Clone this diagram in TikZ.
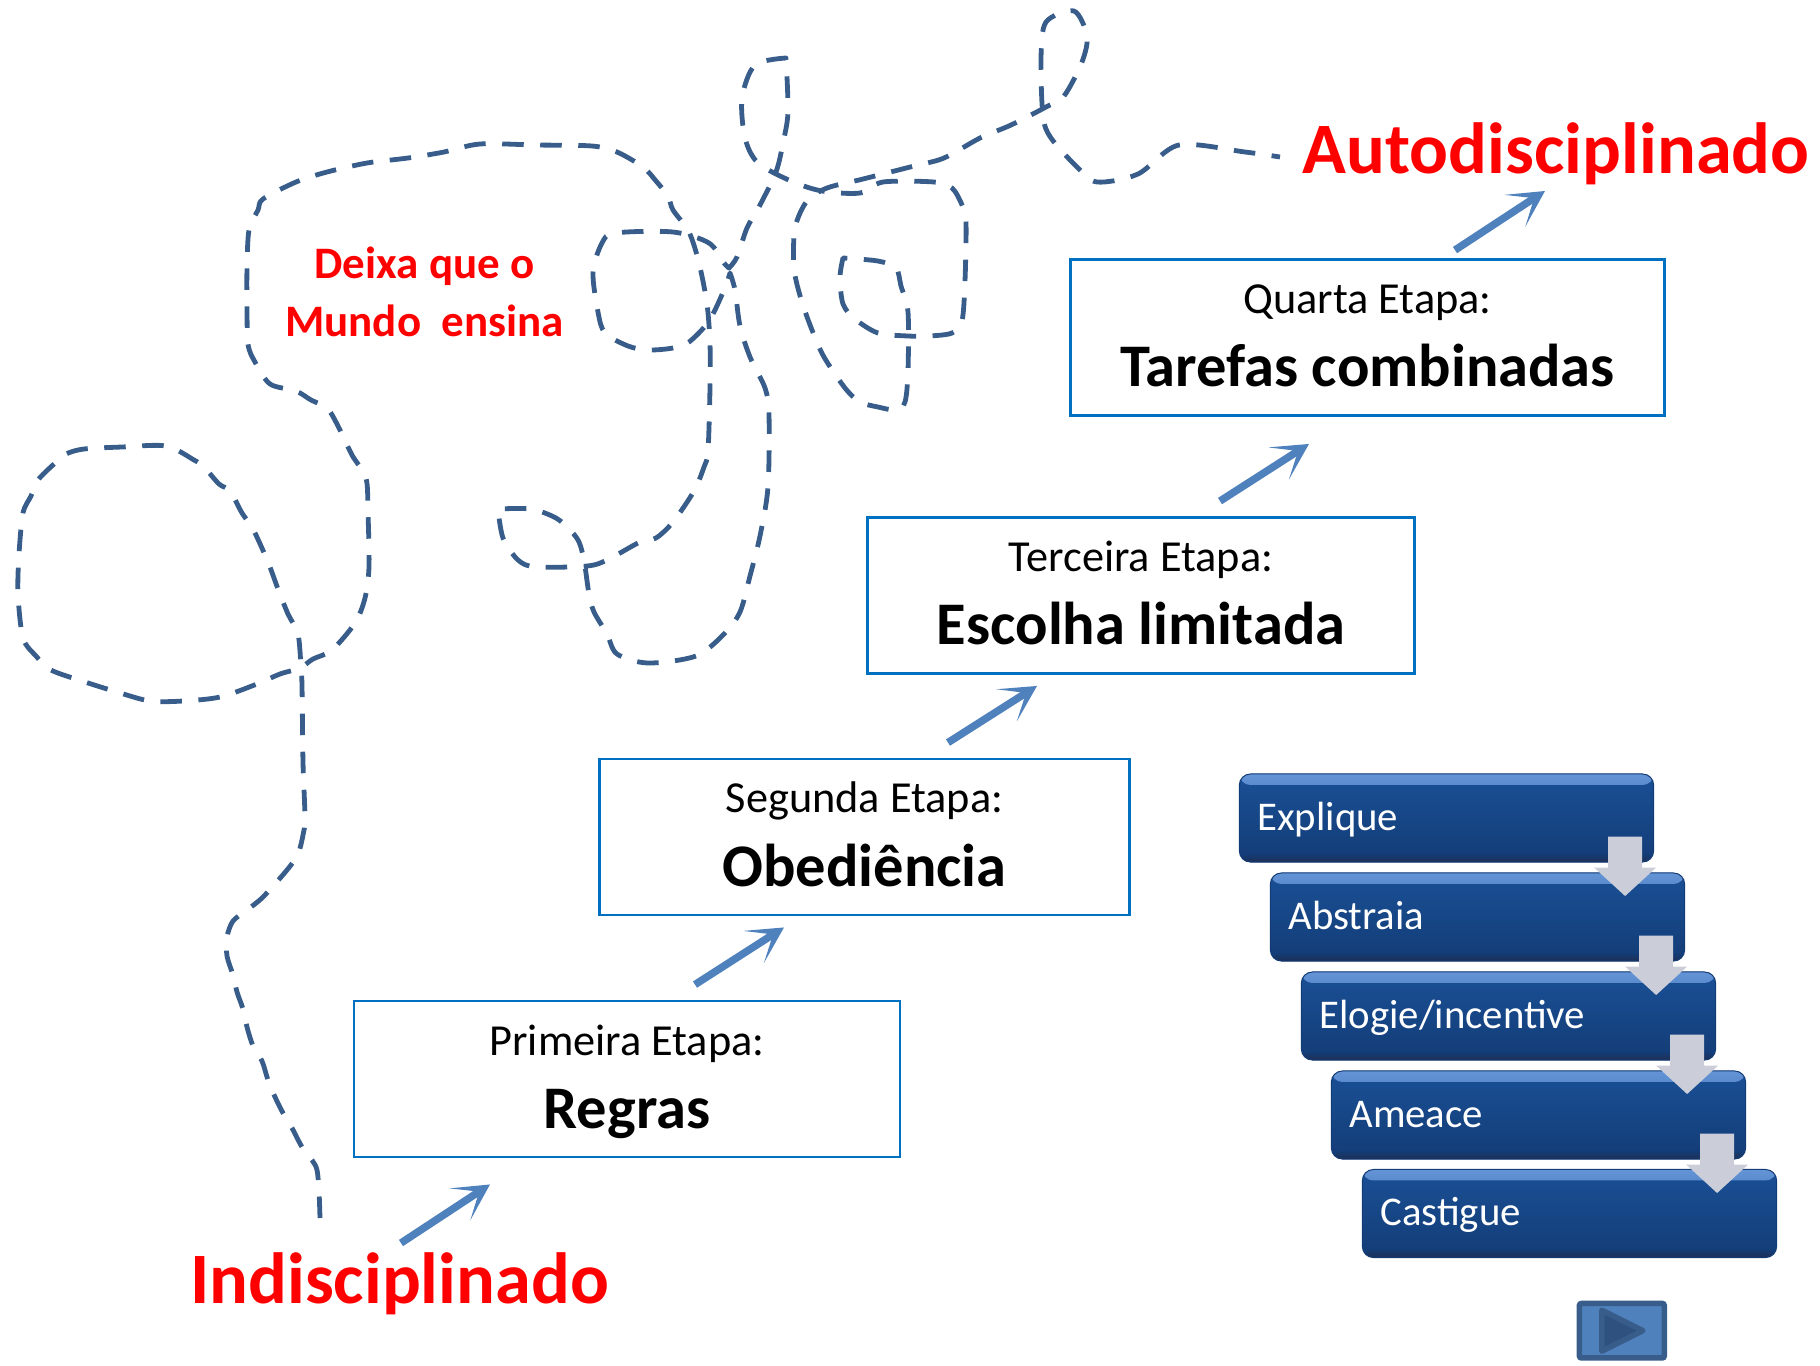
\documentclass[tikz,border=0pt]{standalone}
\usepackage{fontspec}
\setmainfont{Carlito}
\usetikzlibrary{arrows.meta}
\definecolor{wander}{HTML}{385D8A}
\definecolor{setablue}{HTML}{4F81BD}
\definecolor{boxline}{HTML}{0070C0}
\definecolor{bevelTop}{HTML}{6494D6}
\definecolor{bodyTop}{HTML}{1A5096}
\definecolor{bodyBot}{HTML}{133C76}
\definecolor{bevelBot}{HTML}{1E2F55}
\definecolor{bevelMidB}{HTML}{133C76}
\definecolor{stepgrey}{HTML}{CBCED8}
\definecolor{playdark}{HTML}{2F5180}
\newcommand\etapatxt[2]{\vbox to 1.56cm{\offinterlineskip\vskip0.54cm
  \hbox to 0pt{\hss\fontsize{12.6}{15}\selectfont\smash{#1}\hss}\vskip0.73cm
  \hbox to 0pt{\hss\fontsize{17.2}{20}\selectfont\bfseries\smash{#2}\hss}\vss}}
\tikzset{
  wanderline/.style={draw=wander,line width=0.048cm,dash pattern=on 0.215cm off 0.165cm},
  seta/.style={draw=setablue,line width=0.075cm,-{Stealth[length=0.36cm,width=0.38cm,inset=0.23cm]}},
  etapabox/.style={draw=boxline,line width=0.028cm,fill=white,inner sep=0pt,minimum height=1.56cm},
  goal/.style={text=red,font=\fontsize{20.6}{24}\selectfont\bfseries,anchor=base,inner sep=0pt},
  glossy/.style={rounded corners=0.11cm,top color=bodyTop,bottom color=bodyBot,draw=bodyBot,line width=0.01cm,
    minimum width=4.14cm,minimum height=0.88cm,text=white,inner sep=0pt,inner xsep=0.18cm,
    text width=3.78cm,align=left,text height=0.3cm,text depth=0.06cm,
    font=\fontsize{11.6}{14}\selectfont,
    path picture={
      \shade[top color=bevelTop,bottom color=bodyTop] (path picture bounding box.north west) rectangle ([yshift=-0.11cm]path picture bounding box.north east);
      \shade[top color=bevelMidB,bottom color=bevelBot] ([yshift=0.08cm]path picture bounding box.south west) rectangle (path picture bounding box.south east);
    }},
  stepdown/.style={fill=stepgrey,draw=none},
  playbtn/.style={draw=wander,fill=setablue,line width=0.055cm,minimum width=0.848cm,minimum height=0.545cm,inner sep=0pt,rounded corners=0.02cm},
  playtri/.style={draw=wander,fill=playdark,line width=0.055cm,line join=round}
}
\begin{document}
\begin{tikzpicture}[x=0.01cm,y=-0.01cm]
\useasboundingbox (0,0) rectangle (1820,1366);

% wandering dashed track
\draw[wanderline,line join=round]
 plot[smooth,tension=0.5] coordinates {(320,1218)(319,1191)(317,1170)(312,1160)(302,1147)(292,1128)(283,1113)(275,1097)(268,1080)(262,1061)(253,1046)(247,1027)(243,1009)(237,992)(233,975)(227,956)(227,937)(233,921)(247,910)(263,897)(287,870)(298,854)(303,835)(305,818)(303,762)(302,686)(301,667)(298,634)(288,614)(278,589)(268,562)(253,529)(242,513)(230,491)(219,484)(204,467)(194,460)(166,446)(122,447)(84,449)(66,454)(54,464)(38,480)(31,496)(23,513)(19,554)(18,594)(23,638)(36,656)(51,670)(82,681)(117,692)(150,701)(183,701)(220,697)(257,684)(280,674)(300,668)(313,659)(332,650)(355,623)(365,598)(369,567)(368,513)(366,478)(352,455)(337,424)(327,408)(311,400)(296,391)(270,384)(255,362)(248,344)(247,304)(247,268)(249,230)(258,210)(263,199)(296,182)(327,172)(367,163)(408,158)(444,152)(480,144)(536,145)(592,146)(617,152)(643,167)(656,181)(668,196)(673,210)(689,232)(699,263)(707,304)(710,344)(710,388)(708,451)(704,467)(694,491)(673,522)(656,538)(640,542)(607,560)(587,566)(536,567)(518,560)(503,538)(498,509)}
 -- plot[smooth,tension=0.5] coordinates {(498,509)(531,509)(556,518)(571,531)(579,542)(584,560)(589,594)(594,612)(607,634)(617,654)(648,663)(696,656)(724,634)(740,612)(750,576)(760,536)(768,487)(769,415)(765,388)(750,357)(740,326)(735,290)(730,273)}
 -- plot[smooth,tension=0.5] coordinates {(730,273)(724,290)(709,321)(689,342)(673,348)(648,350)(628,346)(605,333)(598,312)(593,272)(602,243)(615,233)(673,232)(709,243)(724,263)(729,268)}
 -- plot[smooth,tension=0.5] coordinates {(729,268)(737,257)(747,228)(760,205)(776,172)(783,143)(788,112)(786,58)}
 -- plot[smooth,tension=0.5] coordinates {(786,58)(755,65)(742,98)(745,138)(758,163)(791,181)(822,191)(860,193)(883,182)(934,182)(952,188)(962,205)(966,223)(965,281)(962,321)(952,333)(929,336)(908,336)(878,333)(855,319)(843,304)(840,277)(843,258)}
 -- plot[smooth,tension=0.5] coordinates {(843,258)(878,261)(896,268)(901,286)(908,312)(908,371)(905,402)(896,410)(878,407)(860,402)(845,388)(824,357)(812,330)(801,299)(794,268)(795,228)(807,201)(827,188)(863,179)(914,166)(944,158)(980,138)(1011,125)(1046,107)(1064,96)(1082,62)(1087,36)(1074,11)(1046,22)(1041,58)(1043,116)(1051,138)(1077,167)(1097,182)(1138,174)(1179,145)(1245,152)(1280,157)};

% labels
\node[goal] (indis) at (399.5,1303) {Indisciplinado};
\node[goal] (auto) at (1556,173) {Autodisciplinado};
\node[text=red,font=\fontsize{12.8}{16.5}\selectfont\bfseries,align=center,inner sep=0pt] (deixa) at (424.5,292) {Deixa que o\\Mundo\ \ ensina};

% stage boxes
\node[etapabox,minimum width=5.455cm] (box1) at (627,1079) {\etapatxt{Primeira Etapa:}{Regras}};
\node[etapabox,minimum width=5.29cm] (box2) at (864.5,837) {\etapatxt{Segunda Etapa:}{Obediência}};
\node[etapabox,minimum width=5.46cm] (box3) at (1141,595.5) {\etapatxt{Terceira Etapa:}{Escolha limitada}};
\node[etapabox,minimum width=5.94cm] (box4) at (1367.5,337.5) {\etapatxt{Quarta Etapa:}{Tarefas combinadas}};

% arrows
\draw[seta] ([shift={(1.5,-60)}]indis.base) -- ([shift={(-137,26)}]box1.south);
\draw[seta] ([shift={(68,-15)}]box1.north) -- ([shift={(-80.5,11)}]box2.south);
\draw[seta] ([shift={(83.5,-15)}]box2.north) -- ([shift={(-104,11)}]box3.south);
\draw[seta] ([shift={(79,-15)}]box3.north) -- ([shift={(-58.5,27)}]box4.south);
\draw[seta] ([shift={(87.5,-8)}]box4.north) -- ([shift={(-11,18)}]auto.base);

% stacked steps
\node[glossy] (s1) at (1446.5,818) {Explique};
\node[glossy] (s2) at (1477.5,917) {Abstraia};
\node[glossy] (s3) at (1508.5,1016) {Elogie/incentive};
\node[glossy] (s4) at (1538.5,1115) {Ameace};
\node[glossy] (s5) at (1569.5,1213.5) {Castigue};
\foreach \a/\b in {s1/s2,s2/s3,s3/s4,s4/s5}{
  \fill[stepdown] ([shift={(-46,-26)}]\a.south east) -- ++(34,0) -- ++(0,31) -- ++(14,0)
     -- ++(-31,28.5) -- ++(-31,-28.5) -- ++(14,0) -- cycle;
}

% play button
\node[playbtn] (play) at (1621.85,1330.7) {};
\filldraw[playtri] ([shift={(-20,-20.5)}]play.center) -- ([shift={(21,0)}]play.center) -- ([shift={(-20,20.5)}]play.center) -- cycle;
\end{tikzpicture}
\end{document}
